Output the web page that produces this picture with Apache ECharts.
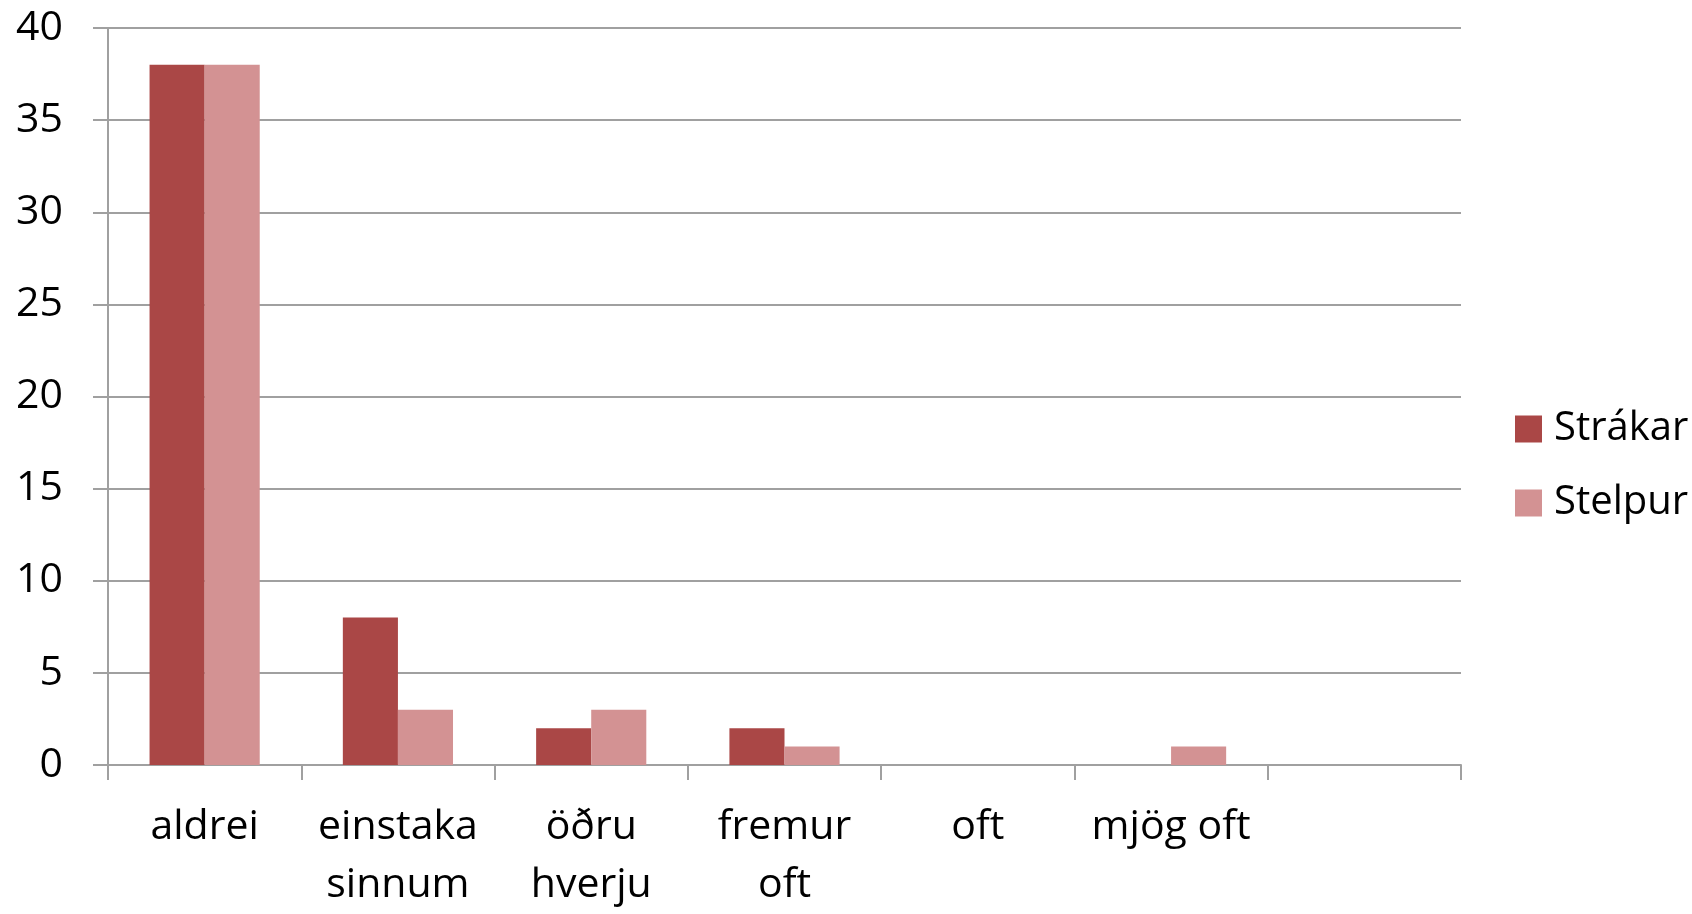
<!DOCTYPE html>
<html>
<head>
<meta charset="utf-8">
<title>Strákar / Stelpur</title>
<script src="https://cdn.jsdelivr.net/npm/echarts@6/dist/echarts.min.js"></script>
<style>
  html, body { margin: 0; padding: 0; background: #fff; }
  #chart { width: 1692px; height: 914px; }
</style>
</head>
<body>
<div id="chart"></div>
<script>
var categories = ["aldrei", "einstaka\nsinnum", "öðru\nhverju", "fremur\noft", "oft", "mjög oft", ""];
var strakar = [38, 8, 2, 2, 0, 0, 0];
var stelpur = [38, 3, 3, 1, 0, 1, 0];
var yTicks = [0, 5, 10, 15, 20, 25, 30, 35, 40];

var font = "Open Sans";
var gray = "#a0a0a0";

var myChart = echarts.init(document.getElementById('chart'));
var option = {
    animation: false,
    textStyle: { fontFamily: font },
    legend: {
        orient: 'vertical',
        left: 1510,
        top: 404,
        icon: 'rect',
        itemWidth: 27,
        itemHeight: 27,
        itemGap: 34,
        selectedMode: false,
        textStyle: {
            fontFamily: font,
            fontSize: 40,
            color: '#000',
            lineHeight: 40,
            padding: [0, 0, 0, 7]
        },
        data: ['Strákar', 'Stelpur']
    },
    grid: {
        left: 108,
        right: 231,
        top: 28,
        bottom: 143,
        containLabel: false
    },
    xAxis: {
        type: 'category',
        data: categories,
        boundaryGap: true,
        axisLine: { lineStyle: { color: gray, width: 2 } },
        axisTick: { show: true, length: 15, alignWithLabel: false, lineStyle: { color: gray, width: 2 } },
        axisLabel: {
            interval: 0,
            margin: 33,
            fontFamily: font,
            fontSize: 41,
            lineHeight: 58,
            color: '#000'
        }
    },
    yAxis: {
        type: 'value',
        min: yTicks[0],
        max: yTicks[yTicks.length - 1],
        interval: 5,
        axisLine: { show: true, lineStyle: { color: gray, width: 2 } },
        axisTick: { show: true, length: 15, lineStyle: { color: gray, width: 2 } },
        splitLine: { show: true, lineStyle: { color: gray, width: 2 } },
        axisLabel: {
            margin: 45,
            fontFamily: font,
            fontSize: 41,
            color: '#000'
        }
    },
    series: [
        {
            name: 'Strákar',
            type: 'bar',
            data: strakar,
            barGap: '0%',
            barCategoryGap: '43%',
            itemStyle: { color: '#aa4746' }
        },
        {
            name: 'Stelpur',
            type: 'bar',
            data: stelpur,
            barGap: '0%',
            barCategoryGap: '43%',
            itemStyle: { color: '#d39293' }
        }
    ]
};
myChart.setOption(option);
</script>
</body>
</html>
